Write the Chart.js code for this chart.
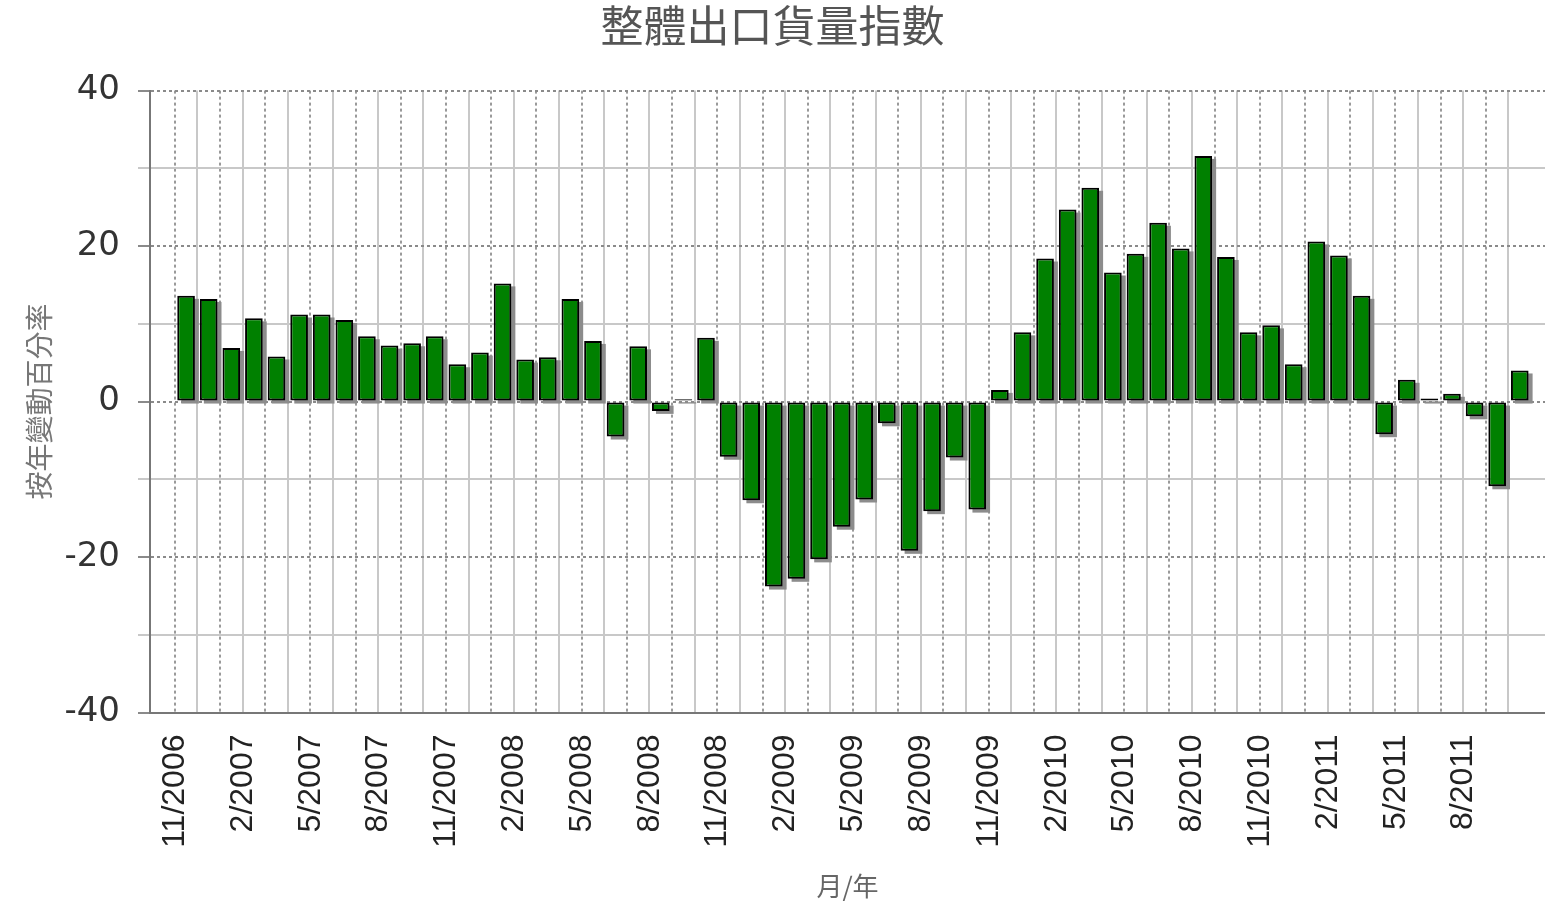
<!DOCTYPE html>
<html>
<head>
<meta charset="utf-8">
<script src="https://cdn.jsdelivr.net/npm/chart.js@4/dist/chart.umd.min.js"></script>
<style>
  html, body { margin: 0; padding: 0; background: #fff; }
  #wrap { width: 1545px; height: 902px; }
</style>
</head>
<body>
<div id="wrap"><canvas id="exportChart"></canvas></div>
<script>
// months 11/2006 .. 10/2011
const months = [
  '11/2006', '12/2006',
  '1/2007', '2/2007', '3/2007', '4/2007', '5/2007', '6/2007', '7/2007', '8/2007', '9/2007', '10/2007', '11/2007', '12/2007',
  '1/2008', '2/2008', '3/2008', '4/2008', '5/2008', '6/2008', '7/2008', '8/2008', '9/2008', '10/2008', '11/2008', '12/2008',
  '1/2009', '2/2009', '3/2009', '4/2009', '5/2009', '6/2009', '7/2009', '8/2009', '9/2009', '10/2009', '11/2009', '12/2009',
  '1/2010', '2/2010', '3/2010', '4/2010', '5/2010', '6/2010', '7/2010', '8/2010', '9/2010', '10/2010', '11/2010', '12/2010',
  '1/2011', '2/2011', '3/2011', '4/2011', '5/2011', '6/2011', '7/2011', '8/2011', '9/2011', '10/2011'
];

// year-on-year % change
const changes = [
  13.6, 13.2,
  6.9, 10.7, 5.8, 11.2, 11.2, 10.5, 8.4, 7.2, 7.5, 8.4, 4.8, 6.3,
  15.2, 5.4, 5.7, 13.2, 7.8, -4.5, 7.1, -1.2, 0.3, 8.2, -7.1, -12.7,
  -23.8, -22.8, -20.3, -16.1, -12.6, -2.8, -19.2, -14.1, -7.2, -13.9, 1.5, 8.9,
  18.4, 24.7, 27.5, 16.6, 19.0, 23.0, 19.7, 31.6, 18.6, 8.9, 9.8, 4.8,
  20.6, 18.8, 13.6, -4.2, 2.8, 0.4, 1.0, -1.9, -10.9, 4.0
];

const yTicks = [-40, -20, 0, 20, 40];

// bars sit on a numeric month index so the left gap can be wider than the right one
const points = changes.map((v, i) => ({ x: i, y: v }));

// gray drop shadow on the right of each bar, drawn from the bar elements
const barShadow = {
  id: 'barShadow',
  beforeDatasetsDraw(chart) {
    const ctx = chart.ctx;
    const area = chart.chartArea;
    ctx.save();
    ctx.beginPath();
    ctx.rect(area.left, area.top, area.right - area.left, area.bottom - area.top);
    ctx.clip();
    ctx.fillStyle = '#8c8c8c';
    chart.getDatasetMeta(0).data.forEach(bar => {
      const p = bar.getProps(['x', 'y', 'base', 'width'], true);
      const top = Math.min(p.y, p.base);
      const h = Math.abs(p.base - p.y);
      ctx.fillRect(p.x - p.width / 2 + 4, top + 3, p.width, h);
    });
    ctx.restore();
  }
};

const ctx = document.getElementById('exportChart').getContext('2d');
new Chart(ctx, {
  type: 'bar',
  data: {
    datasets: [{
      label: '整體出口貨量指數',
      data: points,
      backgroundColor: '#008000',
      borderColor: '#000000',
      borderWidth: 2,
      borderSkipped: false,
      categoryPercentage: 1,
      barPercentage: 0.78
    }]
  },
  options: {
    responsive: true,
    maintainAspectRatio: false,
    animation: false,
    layout: { padding: { top: 0, right: 0, bottom: 0, left: 0 } },
    plugins: {
      legend: { display: false },
      tooltip: { enabled: false },
      title: {
        display: true,
        text: '整體出口貨量指數',
        color: '#555',
        font: { family: "'Noto Sans CJK TC'", size: 43, weight: 'normal' },
        padding: { top: 0, bottom: 39 }
      }
    },
    scales: {
      x: {
        type: 'linear',
        min: -1.09,
        max: 59.61,
        afterFit: function(s) { s.paddingLeft = 0; s.paddingRight = 0; },
        grid: {
          color: function(c) {
            if (!c.tick || c.tick.value < 0) return 'rgba(0,0,0,0)';
            return c.tick.value % 2 === 0 ? '#9a9a9a' : '#c8c8c8';
          },
          lineWidth: 2,
          drawTicks: false
        },
        border: {
          display: true,
          color: '#777',
          width: 2,
          dash: function(c) {
            if (c.tick && c.tick.value % 2 !== 0) return [];
            return [3, 3];
          }
        },
        ticks: {
          stepSize: 1,
          includeBounds: false,
          autoSkip: false,
          maxRotation: 90,
          minRotation: 90,
          padding: 22,
          labelOffset: -11,
          color: '#222',
          font: { family: "'Liberation Sans Narrow', 'Arial Narrow', 'Liberation Sans'", size: 32 },
          callback: function(value) {
            if (!Number.isInteger(value) || value < 0 || value % 3 !== 0) return '';
            return months[value] || '';
          }
        },
        title: {
          display: true,
          text: '月/年',
          color: '#666',
          font: { family: "'Noto Sans CJK TC'", size: 26 },
          padding: { top: 1, bottom: 0 }
        }
      },
      y: {
        min: -40,
        max: 40,
        afterFit: function(s) { s.width = 150; },
        ticks: {
          stepSize: 10,
          padding: 18,
          color: '#333',
          font: { family: "'DejaVu Sans'", size: 34 },
          callback: function(value) {
            return yTicks.includes(value) ? value : '';
          }
        },
        grid: {
          color: function(c) {
            return c.tick && c.tick.value % 20 === 0 ? '#8a8a8a' : '#c8c8c8';
          },
          lineWidth: 2,
          tickLength: 12
        },
        border: {
          display: true,
          color: '#777',
          width: 2,
          dash: function(c) {
            if (c.tick && c.tick.value % 20 !== 0) return [];
            return [3, 3];
          }
        },
        title: {
          display: true,
          text: '按年變動百分率',
          color: '#777',
          font: { family: "'Noto Sans CJK TC'", size: 28 },
          padding: { top: 23, bottom: 0 }
        }
      }
    }
  },
  plugins: [barShadow]
});
</script>
</body>
</html>
